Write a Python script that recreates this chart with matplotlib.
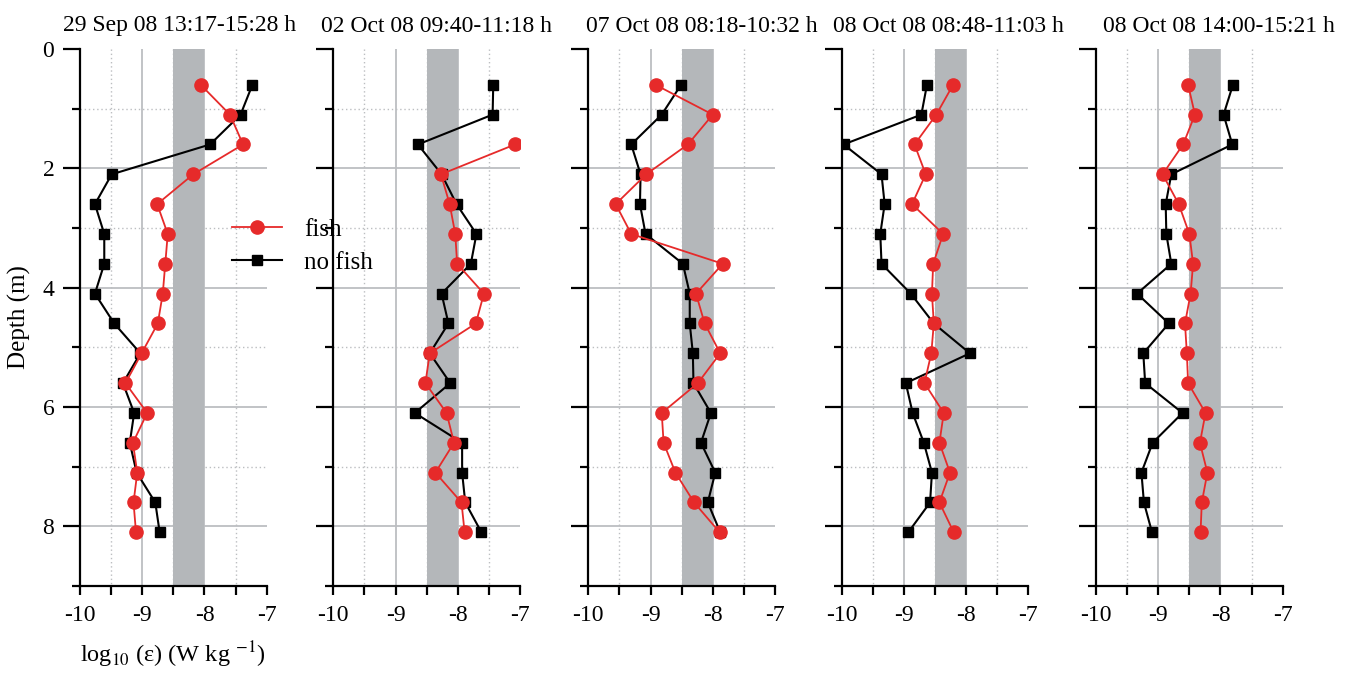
import numpy as np
import matplotlib
matplotlib.use('Agg')
import matplotlib.pyplot as plt

plt.rcParams['font.family'] = ['Liberation Serif', 'DejaVu Serif']
plt.rcParams['mathtext.fontset'] = 'stix'
plt.rcParams['axes.unicode_minus'] = False

# depth of each measurement (m)
depth = [0.6, 1.1, 1.6, 2.1, 2.6, 3.1, 3.6, 4.1, 4.6, 5.1, 5.6, 6.1, 6.6, 7.1, 7.6, 8.1]

titles = ['29 Sep 08 13:17-15:28 h', '02 Oct 08 09:40-11:18 h', '07 Oct 08 08:18-10:32 h',
          '08 Oct 08 08:48-11:03 h', '08 Oct 08 14:00-15:21 h']

# log10(epsilon) with fish present
fish_1 = [-8.06, -7.59, -7.38, -8.18, -8.76, -8.59, -8.63, -8.67, -8.75, -9.01, -9.27, -8.92, -9.15, -9.08, -9.14, -9.10]
fish_2 = [np.nan, np.nan, -7.08, -8.27, -8.13, -8.04, -8.01, -7.58, -7.71, -8.45, -8.52, -8.18, -8.06, -8.36, -7.94, -7.89]
fish_3 = [-8.92, -8.00, -8.40, -9.07, -9.56, -9.31, -7.84, -8.27, -8.13, -7.88, -8.24, -8.82, -8.79, -8.60, -8.30, -7.89]
fish_4 = [-8.21, -8.48, -8.83, -8.65, -8.87, -8.37, -8.53, -8.55, -8.52, -8.56, -8.67, -8.36, -8.43, -8.26, -8.43, -8.20]
fish_5 = [-8.52, -8.41, -8.60, -8.93, -8.67, -8.50, -8.44, -8.48, -8.57, -8.54, -8.52, -8.24, -8.33, -8.21, -8.30, -8.32]

# log10(epsilon) without fish
nofish_1 = [-7.23, -7.42, -7.91, -9.49, -9.76, -9.61, -9.61, -9.76, -9.45, -9.03, -9.31, -9.13, -9.20, -9.09, -8.79, -8.72]
nofish_2 = [-7.43, -7.44, -8.64, -8.26, -8.02, -7.70, -7.79, -8.26, -8.15, -8.45, -8.12, -8.69, -7.93, -7.93, -7.88, -7.62]
nofish_3 = [-8.51, -8.82, -9.31, -9.16, -9.17, -9.08, -8.48, -8.37, -8.37, -8.32, -8.31, -8.03, -8.19, -7.96, -8.08, -7.88]
nofish_4 = [-8.63, -8.72, -9.97, -9.36, -9.31, -9.38, -9.36, -8.89, -8.52, -7.94, -8.97, -8.86, -8.68, -8.55, -8.58, -8.93]
nofish_5 = [-7.80, -7.95, -7.81, -8.79, -8.88, -8.87, -8.79, -9.34, -8.83, -9.24, -9.21, -8.61, -9.09, -9.27, -9.23, -9.10]

fish = [fish_1, fish_2, fish_3, fish_4, fish_5]
nofish = [nofish_1, nofish_2, nofish_3, nofish_4, nofish_5]

# shaded reference range
band = (-8.5, -8.0)

red = '#e62a2a'
grid_c = '#bcbec1'
W, H = 1359, 675
fig = plt.figure(figsize=(W / 100, H / 100), dpi=100)

lefts = [80, 333.3, 588.3, 841.7, 1096]
title_x = [63, 321, 586, 833, 1103]
ax_w, ax_top, ax_bot = 186.7, 49, 586

axes = []
for i in range(5):
    ax = fig.add_axes([lefts[i] / W, 1 - ax_bot / H, ax_w / W, (ax_bot - ax_top) / H])
    axes.append(ax)
    ax.set_xlim(-10, -7)
    ax.set_ylim(9, 0)

    # grid lines
    for yy in [2, 4, 6, 8]:
        ax.plot([-10, -7], [yy, yy], color=grid_c, lw=1.3, zorder=0)
    for yy in [1, 3, 5, 7]:
        ax.plot([-10, -7], [yy, yy], color=grid_c, lw=1.0, ls=(0, (1, 2)), zorder=0)
    for xx in [-9, -8]:
        ax.plot([xx, xx], [0, 9], color=grid_c, lw=1.3, zorder=0)
    for xx in [-9.5, -8.5, -7.5]:
        ax.plot([xx, xx], [0, 9], color=grid_c, lw=1.0, ls=(0, (1, 2)), zorder=0)

    ax.axvspan(band[0], band[1], color='#b4b7ba', lw=0, zorder=1)

    ax.plot(nofish[i], depth, color='black', lw=1.5, marker='s', ms=7.8, mec='black', zorder=3, label='no fish')
    ax.plot(fish[i], depth, color=red, lw=1.3, marker='o', ms=9.5, mec=red, zorder=4, label='fish')

    for s in ['top', 'right']:
        ax.spines[s].set_visible(False)
    for s in ['left', 'bottom']:
        ax.spines[s].set_linewidth(1.6)

    ax.set_xticks([-10, -9, -8, -7])
    ax.set_xticks([-9.5, -8.5, -7.5], minor=True)
    ax.set_yticks([0, 2, 4, 6, 8])
    ax.set_yticks([1, 3, 5, 7, 9], minor=True)
    ax.tick_params(axis='x', which='both', direction='out', length=6.5, width=1.6, labelsize=17, pad=7)
    ax.tick_params(axis='y', which='major', direction='out', length=12.5, width=1.6, labelsize=17, pad=6)
    ax.tick_params(axis='y', which='minor', direction='out', length=6, width=1.6)
    if i > 0:
        ax.set_yticklabels([])

    fig.text(title_x[i] / W, 1 - 26 / H, titles[i], ha='left', va='center', fontsize=17)

axes[0].set_ylabel('Depth (m)', fontsize=18, labelpad=8)
axes[0].set_xlabel(r'log$_{10}$ (ε) (W kg $^{-1}$)', fontsize=17.5, labelpad=10)

h, l = axes[0].get_legend_handles_labels()
fig.legend(h[::-1], l[::-1], loc='center left', bbox_to_anchor=(232 / W, 1 - 246 / H),
           frameon=False, fontsize=18, borderpad=0, borderaxespad=0,
           handlelength=2.0, handletextpad=0.9, labelspacing=0.42)

fig.savefig('out.png', dpi=100)
